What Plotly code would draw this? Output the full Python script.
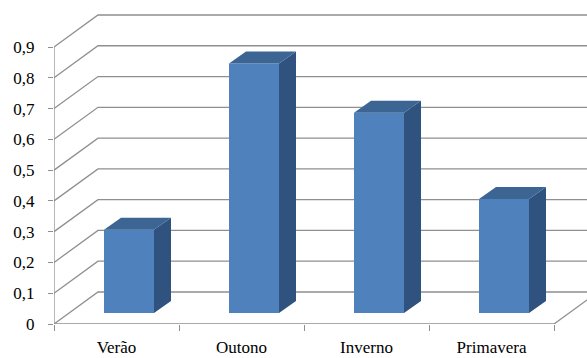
import plotly.graph_objects as go

# ---- data ----
categories = ["Verão", "Outono", "Inverno", "Primavera"]
values = [0.27, 0.81, 0.65, 0.37]
y_ticks = [0, 0.1, 0.2, 0.3, 0.4, 0.5, 0.6, 0.7, 0.8, 0.9]
y_tick_text = ["0", "0,1", "0,2", "0,3", "0,4", "0,5", "0,6", "0,7", "0,8", "0,9"]

# ---- styling / pseudo-3D geometry (in axis units) ----
X_MIN, X_MAX = -0.5, 3.764
Y_MAX = 1.0527
DX, DY = 0.352, 0.104          # wall depth
BX, BY = 0.1, 0.036            # bar front-face offset into the depth
SDX, SDY = 0.136, 0.039        # bar depth
BW = 0.4
GRID = "#8f8f8f"
FRONT = "#4F81BD"
TOP = "#3C6594"
SIDE = "#30527F"
FONT = "Liberation Serif, Times New Roman, serif"
n = len(categories)

fig = go.Figure()


def path(pts):
    return "M " + " L ".join(f"{x},{y}" for x, y in pts)


line_style = dict(color=GRID, width=1.3)
shapes = []
# walls: left wall slants + back wall gridlines
for v in y_ticks:
    shapes.append(dict(type="path", xref="x", yref="y", layer="below", line=line_style,
                       path=path([(X_MIN, v), (X_MIN + DX, v + DY), (X_MAX, v + DY)])))
# floor front edge + right slant, front vertical axis line
shapes.append(dict(type="path", xref="x", yref="y", layer="below", line=line_style,
                   path=path([(X_MIN, 0), (n - 0.5, 0), (n - 0.5 + DX, DY)])))
shapes.append(dict(type="path", xref="x", yref="y", layer="below", line=line_style,
                   path=path([(X_MIN, 0), (X_MIN, y_ticks[-1])])))

# bars: front faces
xs = [i + BX for i in range(n)]
fig.add_trace(go.Bar(x=xs, y=values, base=BY, width=BW,
                     marker=dict(color=FRONT, line=dict(width=0)), hoverinfo="skip"))

# side and top faces
sx, sy, tx, ty = [], [], [], []
for x, v in zip(xs, values):
    xl, xr = x - BW / 2, x + BW / 2
    yb, yt = BY, BY + v
    sx += [xr, xr + SDX, xr + SDX, xr, xr, None]
    sy += [yb, yb + SDY, yt + SDY, yt, yb, None]
    tx += [xl, xl + SDX, xr + SDX, xr, xl, None]
    ty += [yt, yt + SDY, yt + SDY, yt, yt, None]
fig.add_trace(go.Scatter(x=sx, y=sy, mode="lines", fill="toself", fillcolor=SIDE,
                         line=dict(width=0, color=SIDE), hoverinfo="skip"))
fig.add_trace(go.Scatter(x=tx, y=ty, mode="lines", fill="toself", fillcolor=TOP,
                         line=dict(width=0, color=TOP), hoverinfo="skip"))

fig.update_layout(
    width=587, height=358,
    margin=dict(l=54, r=0, t=0, b=34, autoexpand=False),
    paper_bgcolor="white", plot_bgcolor="white",
    showlegend=False, hovermode=False,
    shapes=shapes,
    font=dict(family=FONT, size=17, color="#000000"),
    xaxis=dict(range=[X_MIN, X_MAX], showgrid=False, zeroline=False, showline=False,
               automargin=False,
               tickmode="array", tickvals=list(range(n)), ticktext=categories,
               ticks="", ticklabelstandoff=11,
               minor=dict(tickmode="array", tickvals=[i - 0.5 for i in range(n + 1)],
                          ticks="outside", ticklen=6, tickcolor=GRID, tickwidth=1.3)),
    yaxis=dict(range=[0, Y_MAX], showgrid=False, zeroline=False, showline=False,
               automargin=False,
               tickmode="array", tickvals=y_ticks, ticktext=y_tick_text,
               ticks="outside", ticklen=5, tickcolor=GRID, tickwidth=1.3,
               ticklabelstandoff=10),
)

fig.write_html("out.html")
